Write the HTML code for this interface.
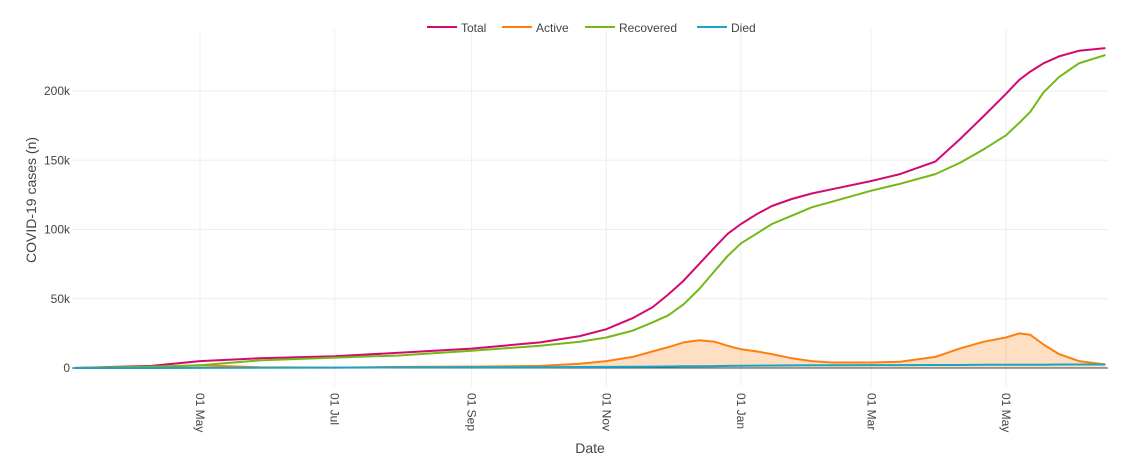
<!DOCTYPE html>
<html><head><meta charset="utf-8"><style>
body{margin:0;background:#fff;font-family:"Liberation Sans",Arial,sans-serif}
svg text{font-family:"Liberation Sans",Arial,sans-serif;fill:#444}
</style></head><body>
<svg id="c" width="1124" height="470"></svg>
<script>
const dates=["2020-03-05","2020-04-09","2020-05-01","2020-05-28","2020-07-01","2020-07-30","2020-09-01","2020-10-02","2020-10-20","2020-11-01","2020-11-13","2020-11-22","2020-11-29","2020-12-06","2020-12-13","2020-12-20","2020-12-26","2021-01-01","2021-01-08","2021-01-15","2021-01-24","2021-02-02","2021-02-11","2021-03-01","2021-03-14","2021-03-30","2021-04-10","2021-04-21","2021-05-01","2021-05-07","2021-05-12","2021-05-18","2021-05-25","2021-06-03","2021-06-15"];
const total=[0,1.5,5,7,8.5,11,14,18.5,23,28,36,44,53,63,75,87,97,104,111,117,122,126,129,135,140,149,165,182,198,208,214,220,225,229,231];
const recovered=[0,1,2,5.5,7.5,9,12.5,16,19,22,27,33,38,46,57,70,81,90,97,104,110,116,120,128,133,140,148,158,168,177,185,199,210,220,226];
const active=[0,0.5,2,0.5,0.3,0.8,1,1.5,3,5,8,12,15,18.5,20,19,16,13.5,12,10,7,5,4,4,4.5,8,14,19,22,25,24,17,10,5,2.5];
const died=[0,0,0.1,0.2,0.3,0.4,0.5,0.6,0.7,0.8,0.9,1,1.1,1.2,1.3,1.4,1.5,1.6,1.7,1.8,1.9,2,2,2.1,2.1,2.2,2.2,2.3,2.3,2.4,2.4,2.4,2.5,2.5,2.5];
const yTicks=[0,50,100,150,200];
const yTickLabels=["0","50k","100k","150k","200k"];
const xTicks=["2020-05-01","2020-07-01","2020-09-01","2020-11-01","2021-01-01","2021-03-01","2021-05-01"];
const xTickLabels=["01 May","01 Jul","01 Sep","01 Nov","01 Jan","01 Mar","01 May"];

const svg=document.getElementById('c');const NS='http://www.w3.org/2000/svg';
const L=72,R=1108,T=30,B=368;
const t0=Date.parse("2020-05-01"),t1=Date.parse("2021-05-01");
function x(d){return 200+(Date.parse(d)-t0)/(t1-t0)*806;}
function y(v){return 368-v*1.385;}
function mk(tag,attrs,parent){const e=document.createElementNS(NS,tag);for(const k in attrs)e.setAttribute(k,attrs[k]);(parent||svg).appendChild(e);return e;}
const grid=mk('g',{});


yTicks.forEach((v,i)=>{
  if(v>0)mk('line',{x1:L,x2:R,y1:y(v),y2:y(v),stroke:'#eee','stroke-width':1},grid);
  const t=mk('text',{x:70,y:y(v)+4,'text-anchor':'end','font-size':12});
  t.textContent=yTickLabels[i];
  
  
});
xTicks.forEach((d,i)=>{
  const xx=x(d);
  mk('line',{x1:xx,x2:xx,y1:T,y2:B+18,stroke:'#eee','stroke-width':1},grid);
  const t=mk('text',{x:0,y:0,'font-size':12,transform:`translate(${xx-4},393) rotate(90)`});
  t.textContent=xTickLabels[i];
  
  
});
function pts(arr){return arr.map((v,i)=>x(dates[i]).toFixed(1)+','+y(v).toFixed(1));}
const area=mk('polygon',{points:[x(dates[0])+','+y(0)].concat(pts(active)).concat([x(dates[dates.length-1])+','+y(0)]).join(' '),fill:'rgba(255,127,14,0.25)',stroke:'none'});


mk('line',{x1:L,x2:R,y1:B,y2:B,stroke:'#444','stroke-width':1});
const series=[["total",total,"#d4096f"],["active",active,"#ff7f0e"],["recovered",recovered,"#74b816"],["died",died,"#17a5c9"]];
series.forEach(s=>{
  const p=mk('polyline',{points:pts(s[1]).join(' '),fill:'none',stroke:s[2],'stroke-width':2,'stroke-linejoin':'round'});
  
  
});
const leg=[["Total","#d4096f",427],["Active","#ff7f0e",502],["Recovered","#74b816",585],["Died","#17a5c9",697]];
leg.forEach(l=>{
  const g=mk('g',{});
  
  
  mk('line',{x1:l[2],x2:l[2]+30,y1:27,y2:27,stroke:l[1],'stroke-width':2},g);
  const t=mk('text',{x:l[2]+34,y:32,'font-size':12},g);t.textContent=l[0];
});
const yt=mk('text',{x:0,y:0,'font-size':14,'text-anchor':'middle',transform:'translate(36,200) rotate(-90)'});
yt.textContent='COVID-19 cases (n)';


const xt=mk('text',{x:590,y:453,'font-size':14,'text-anchor':'middle'});
xt.textContent='Date';


</script>
</body></html>
